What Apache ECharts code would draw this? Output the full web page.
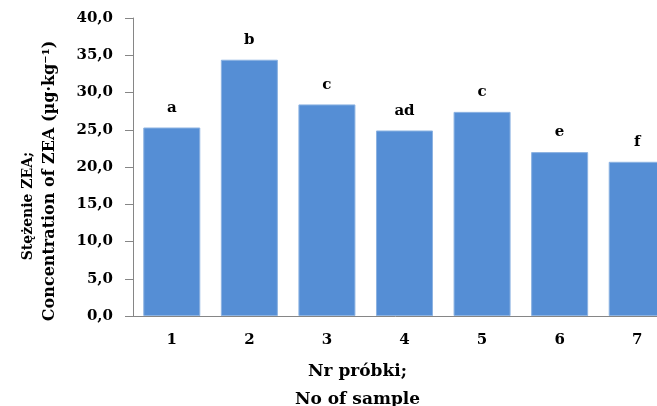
<!DOCTYPE html>
<html>
<head>
<meta charset="utf-8">
<script src="https://cdn.jsdelivr.net/npm/echarts@6/dist/echarts.min.js"></script>
<style>
  html, body { margin: 0; padding: 0; background: #fff; }
  #chart { width: 657px; height: 406px; }
</style>
</head>
<body>
<div id="chart"></div>
<script>
(function(){
	'use strict';

	// dane z wykresu
	var samples = ['1', '2', '3', '4', '5', '6', '7'];
	var zea     = [25.3, 34.4, 28.4, 24.9, 27.4, 22.0, 20.7];
	var letters = ['a', 'b', 'c', 'ad', 'c', 'e', 'f'];

	var font = 'DejaVu Serif';
	var myChart = echarts.init(document.getElementById('chart'));

	var option = {
		animation: false,
		grid: {
			left: 133,
			top: 18,
			right: -19,
			bottom: 90,
			outerBoundsMode: 'none',
			containLabel: false
		},
		xAxis: {
			type: 'category',
			data: samples,
			name: 'Nr próbki;\nNo of sample',
			nameLocation: 'middle',
			nameGap: 42,
			nameTextStyle: {
				fontFamily: font, fontWeight: 'bold', fontSize: 17,
				color: '#000', lineHeight: 28, padding: [0, 94, 0, 0]
			},
			axisLine: { lineStyle: { color: '#868686' } },
			axisTick: { show: false },
			axisLabel: {
				fontFamily: font, fontWeight: 'bold', fontSize: 15,
				color: '#000', margin: 17
			}
		},
		yAxis: {
			type: 'value',
			min: 0,
			max: 40,
			interval: 5,
			// trailing spaces przesuwaja linie w dol, jak w oryginale
			name: '{a|Stężenie ZEA;                }\n{b|Concentration of ZEA (µg·kg⁻¹)     }',
			nameLocation: 'middle',
			nameGap: 72,
			nameTextStyle: {
				color: '#000',
				rich: {
					a: { fontFamily: font, fontWeight: 'bold', fontSize: 14, lineHeight: 22, color: '#000' },
					b: { fontFamily: font, fontWeight: 'bold', fontSize: 16, lineHeight: 22, color: '#000' }
				}
			},
			splitLine: { show: false },
			axisLine: { show: true, lineStyle: { color: '#868686' } },
			axisTick: { show: true, length: 8, lineStyle: { color: '#868686' } },
			axisLabel: {
				fontFamily: font, fontWeight: 'bold', fontSize: 15,
				color: '#000', margin: 20,
				formatter: function (v) { return v.toFixed(1).replace('.', ','); }
			}
		},
		series: [{
			type: 'bar',
			data: zea,
			barCategoryGap: '26.5%',
			itemStyle: {
				color: '#558ed5',
				borderColor: '#8db3e2',
				borderWidth: 1
			},
			label: {
				show: true,
				position: 'top',
				distance: 12,
				fontFamily: font, fontWeight: 'bold', fontSize: 15,
				color: '#000',
				formatter: function (p) { return letters[p.dataIndex]; }
			}
		}]
	};

	myChart.setOption(option);
}());
</script>
</body>
</html>
